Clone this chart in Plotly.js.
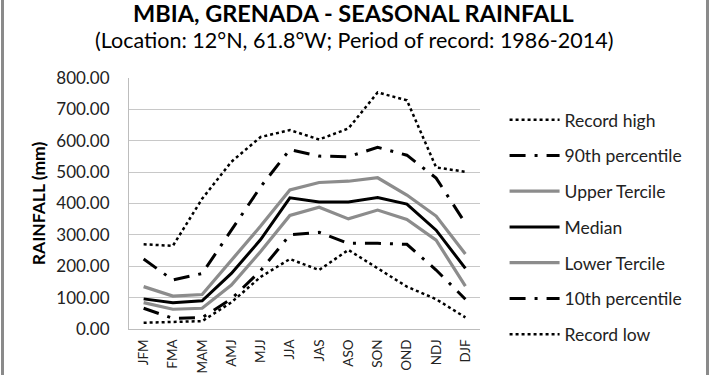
<!DOCTYPE html>
<html>
<head>
<meta charset="utf-8">
<script src="https://cdn.plot.ly/plotly-3.0.1.min.js"></script>
<style>
html,body{margin:0;padding:0;background:#fff;}
#wrap{position:relative;width:710px;height:375px;overflow:hidden;}
#chart{width:710px;height:375px;}
.bl{position:absolute;top:0;width:3px;height:375px;background:#8a8a8a;}
</style>
</head>
<body>
<div id="wrap">
<div id="chart"></div>
<div class="bl" style="left:1px"></div>
<div class="bl" style="left:706px"></div>
</div>
<script>
var seasons = ["JFM","FMA","MAM","AMJ","MJJ","JJA","JAS","ASO","SON","OND","NDJ","DJF"];
var recordHigh = [270,265,415,533,612,634,604,639,754,729,515,501];
var p90        = [223,156,177,315,453,572,551,549,579,554,481,337];
var upperTercile = [135,105,110,220,328,443,467,471,482,427,360,239];
var median     = [96,84,90,177,285,418,405,405,419,398,315,193];
var lowerTercile = [84,63,66,140,247,362,388,351,379,349,283,137];
var p10        = [66,34,36,96,186,300,308,273,273,270,188,95];
var recordLow  = [20,23,25,85,166,223,188,252,193,135,95,37];

var F = "Lato, 'Open Sans', sans-serif";
function tr(name, y, color, width, dash){
  return {x: seasons, y: y, name: name, type: "scatter", mode: "lines",
    legendgroup: name,
    line: {color: color, width: width, dash: dash}};
}
var data = [
  tr("Record high", recordHigh, "#000", 2.5, "dot"),
  tr("90th percentile", p90, "#000", 3, "16px,9px,3px,9px"),
  tr("Upper Tercile", upperTercile, "#8c8c8c", 3.2, "solid"),
  tr("Median", median, "#000", 3, "solid"),
  tr("Lower Tercile", lowerTercile, "#8c8c8c", 3.2, "solid"),
  tr("10th percentile", p10, "#000", 3, "16px,9px,3px,9px"),
  tr("Record low", recordLow, "#000", 2.5, "dot")
];
var layout = {
  width: 710, height: 375,
  margin: {l: 129, r: 230, t: 78, b: 46},
  paper_bgcolor: "#fff", plot_bgcolor: "#fff",
  showlegend: true,
  font: {family: F, color: "#222", size: 16},
  annotations: [
    {text: "<b>MBIA, GRENADA - SEASONAL RAINFALL</b>", xref: "paper", yref: "paper",
     x: 0.64, y: 1, yshift: 65, xanchor: "center", yanchor: "middle", showarrow: false,
     font: {family: F, size: 23.5, color: "#000"}},
    {text: "(Location: 12°N, 61.8°W; Period of record: 1986-2014)", xref: "paper", yref: "paper",
     x: 0.64, y: 1, yshift: 38, xanchor: "center", yanchor: "middle", showarrow: false,
     font: {family: F, size: 21.5, color: "#000"}}
  ],
  xaxis: {
    type: "category", tickangle: -90, showgrid: false, zeroline: false,
    showline: true, linecolor: "#bdbdbd", linewidth: 1, ticks: "",
    ticklabelstandoff: 4,
    tickfont: {family: F, size: 13.5, color: "#222"}, range: [-0.5, 11.5]
  },
  yaxis: {
    range: [0, 800], dtick: 100, tickformat: ".2f",
    showgrid: true, gridcolor: "#c8c8c8", gridwidth: 1,
    showline: true, linecolor: "#bdbdbd", linewidth: 1, zeroline: false,
    ticks: "", ticklen: 0, ticklabelstandoff: 15,
    tickfont: {family: F, size: 17, color: "#222"},
    title: {text: "<b>RAINFALL (mm)</b>", font: {family: F, size: 17.5, color: "#000"}, standoff: 6}
  },
  legend: {
    x: 1.07, xanchor: "left", y: 0.905, yanchor: "top",
    font: {family: F, size: 17.5, color: "#222"},
    tracegroupgap: 10, itemwidth: 50, bgcolor: "rgba(0,0,0,0)"
  }
};
Plotly.newPlot("chart", data, layout, {displayModeBar: false, staticPlot: true});
</script>
</body>
</html>
